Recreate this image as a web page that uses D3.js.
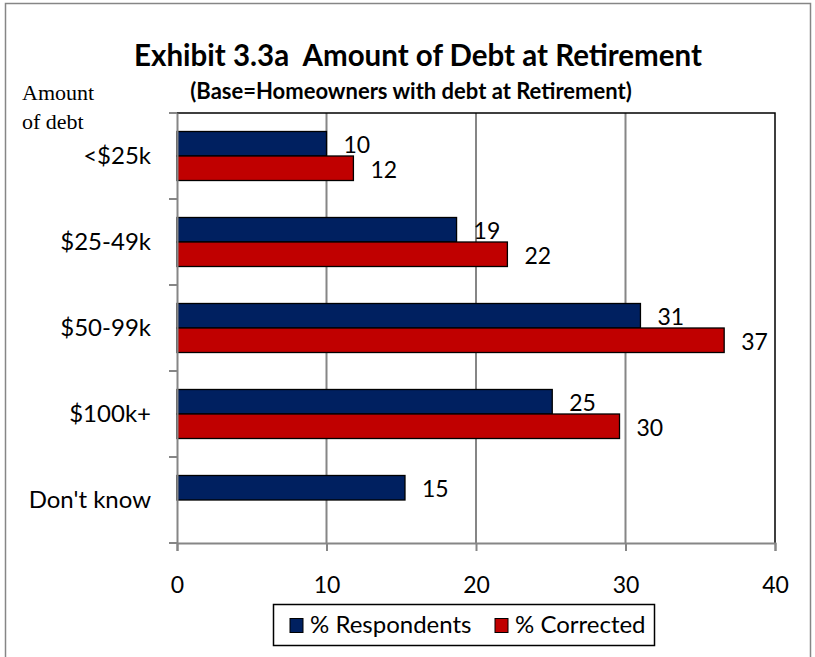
<!DOCTYPE html>
<html><head><meta charset="utf-8">
<script src="https://cdn.jsdelivr.net/npm/d3@7"></script>
<style>html,body{margin:0;padding:0;background:#fff;} svg{display:block;}</style>
</head><body>
<svg id="chart" width="815" height="657"></svg>
<script>
const categories = ["<$25k", "$25-49k", "$50-99k", "$100k+", "Don't know"];
const seriesNames = ["% Respondents", "% Corrected"];
const respondents = [10.0, 18.7, 31.0, 25.1, 15.25];
const corrected = [11.8, 22.1, 36.6, 29.6, null];
const respondentLabels = ["10", "19", "31", "25", "15"];
const correctedLabels = ["12", "22", "37", "30", null];
const xTicks = [0, 10, 20, 30, 40];
const colors = ["#002060", "#C00000"];

const svg = d3.select("#chart");
const FONT = "Lato, 'Open Sans', sans-serif";
const plot = {left: 177, right: 775, top: 113, bottom: 543};

// outer border
svg.append("rect").attr("x", 5.5).attr("y", 3.5).attr("width", 805).attr("height", 660)
  .attr("fill", "#fff").attr("stroke", "#868686").attr("stroke-width", 1.5);

const x = d3.scaleLinear().domain([0, 40]).range([plot.left, plot.right]);
const y = d3.scaleBand().domain(categories).range([plot.top, plot.bottom])
  .paddingInner(0.43).paddingOuter(0.215);
const ySub = d3.scaleBand().domain(seriesNames).range([0, y.bandwidth()]);
const step = y.step();
const bandStart = c => y(c) - y.paddingOuter() * step;

// gridlines
svg.append("g").selectAll("line").data(xTicks.slice(1, -1)).join("line")
  .attr("x1", d => x(d)).attr("x2", d => x(d))
  .attr("y1", plot.top).attr("y2", plot.bottom)
  .attr("stroke", "#868686").attr("stroke-width", 2);

// plot border (top/right)
svg.append("path")
  .attr("d", `M${plot.left},${plot.top}H${plot.right}V${plot.bottom}`)
  .attr("fill", "none").attr("stroke", "#000").attr("stroke-width", 1.5);

// bars
const rows = categories.map((c, i) => ({c, vals: [respondents[i], corrected[i]], labs: [respondentLabels[i], correctedLabels[i]]}));
const barData = [];
rows.forEach(r => r.vals.forEach((v, j) => { if (v != null) barData.push({c: r.c, s: seriesNames[j], v, lab: r.labs[j], j}); }));

svg.append("g").selectAll("rect").data(barData).join("rect")
  .attr("x", x(0)).attr("y", d => y(d.c) + ySub(d.s))
  .attr("width", d => x(d.v) - x(0)).attr("height", ySub.bandwidth())
  .attr("fill", d => colors[d.j]).attr("stroke", "#000").attr("stroke-width", 1.3);

// data labels
svg.append("g").selectAll("text").data(barData).join("text")
  .attr("x", d => x(d.v) + 17).attr("y", d => y(d.c) + ySub(d.s) + ySub.bandwidth() / 2 + 1.5)
  .attr("dy", "0.35em").attr("font-family", FONT).attr("font-size", 23).attr("fill", "#000")
  .text(d => d.lab);

// x axis
const xAxis = d3.axisBottom(x).tickValues(xTicks).tickSize(8).tickPadding(26).tickFormat(d3.format("d"));
const gx = svg.append("g").attr("transform", `translate(0,${plot.bottom})`).call(xAxis);
gx.select(".domain").attr("stroke", "#868686").attr("stroke-width", 2);
gx.selectAll(".tick line").attr("stroke", "#868686").attr("stroke-width", 2);
gx.selectAll(".tick text").attr("font-family", FONT).attr("font-size", 23).attr("fill", "#000");

// y axis
const yAxis = d3.axisLeft(y).tickSize(0).tickPadding(26);
const gy = svg.append("g").attr("transform", `translate(${plot.left},0)`).call(yAxis);
gy.select(".domain").attr("stroke", "#868686").attr("stroke-width", 2);
gy.selectAll(".tick text").attr("font-family", FONT).attr("font-size", 24).attr("fill", "#000");
const bounds = categories.map(bandStart).concat([plot.bottom]);
gy.append("g").selectAll("line").data(bounds).join("line")
  .attr("x1", -8).attr("x2", 0).attr("y1", d => d).attr("y2", d => d)
  .attr("stroke", "#868686").attr("stroke-width", 2);

// titles
svg.append("text").attr("x", 418).attr("y", 66).attr("text-anchor", "middle")
  .attr("font-family", FONT).attr("font-weight", "bold").attr("font-size", 29.5)
  .style("white-space", "pre")
  .text("Exhibit 3.3a  Amount of Debt at Retirement");
svg.append("text").attr("x", 411).attr("y", 99).attr("text-anchor", "middle")
  .attr("font-family", FONT).attr("font-weight", "bold").attr("font-size", 22)
  .text("(Base=Homeowners with debt at Retirement)");
svg.append("text").attr("x", 22).attr("y", 100)
  .attr("font-family", "'Liberation Serif', 'DejaVu Serif', serif").attr("font-size", 22)
  .text("Amount");
svg.append("text").attr("x", 22).attr("y", 129)
  .attr("font-family", "'Liberation Serif', 'DejaVu Serif', serif").attr("font-size", 22)
  .text("of debt");

// legend
const lg = svg.append("g");
lg.append("rect").attr("x", 273.5).attr("y", 604.5).attr("width", 381).attr("height", 41)
  .attr("fill", "#fff").attr("stroke", "#000").attr("stroke-width", 1.5);
const legendX = [290, 495];
seriesNames.forEach((s, i) => {
  lg.append("rect").attr("x", legendX[i]).attr("y", 618.5).attr("width", 13).attr("height", 14)
    .attr("fill", colors[i]).attr("stroke", "#000").attr("stroke-width", 1);
  lg.append("text").attr("x", legendX[i] + 20).attr("y", 625).attr("dy", "0.35em")
    .attr("font-family", FONT).attr("font-size", 24).text(s);
});
</script>
</body></html>
